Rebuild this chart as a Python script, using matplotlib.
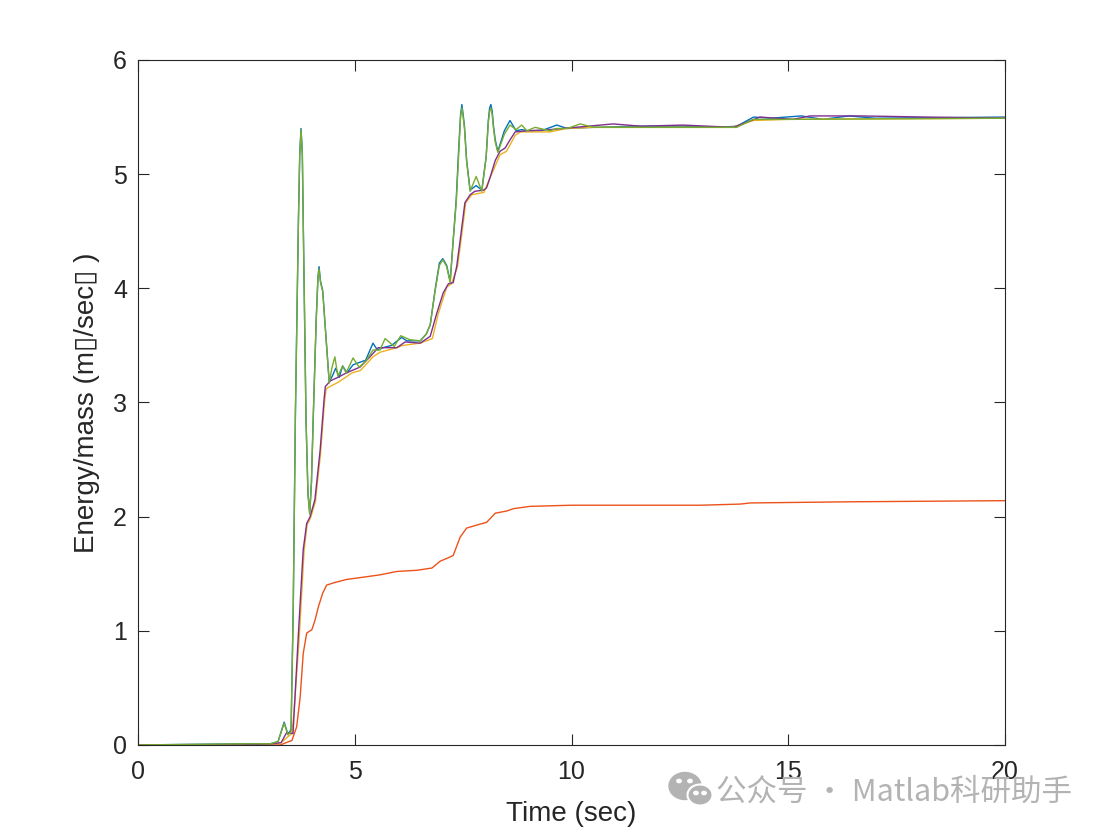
import numpy as np
import matplotlib.pyplot as plt
from matplotlib.patches import Ellipse, Circle

# Energy per unit mass for five runs

# blue run (oscillating)
t_blue = [0, 2.35, 3.05, 3.23, 3.37, 3.46, 3.53, 3.58, 3.63, 3.70, 3.73, 3.76, 3.79, 3.81, 3.875, 3.92,
          3.96, 4.00, 4.04, 4.11, 4.15, 4.175, 4.21, 4.26, 4.33, 4.41, 4.48, 4.56, 4.64, 4.72, 4.82,
          4.96, 5.10, 5.25, 5.42, 5.52, 5.65, 5.85, 6.08, 6.20, 6.51, 6.65, 6.74, 6.85, 6.95, 7.03,
          7.12, 7.20, 7.27, 7.34, 7.40, 7.44, 7.47, 7.50, 7.53, 7.58, 7.66, 7.80, 7.93, 8.03, 8.08,
          8.11, 8.14, 8.17, 8.20, 8.24, 8.30, 8.45, 8.58, 8.72, 8.85, 9.00, 9.30, 9.66, 9.90, 10.5,
          11.5, 12.6, 13.4, 13.81, 14.2, 14.6, 15.3, 15.8, 16.4, 17.0, 20]
e_blue = [0, 0.01, 0.01, 0.03, 0.20, 0.09, 0.14, 1.2, 2.9, 4.6, 5.18, 5.40, 5.18, 4.6, 2.85, 2.2,
          2.03, 2.3, 2.85, 3.73, 4.10, 4.19, 4.06, 3.98, 3.6, 3.18, 3.23, 3.30, 3.22, 3.32, 3.26,
          3.33, 3.35, 3.37, 3.52, 3.46, 3.48, 3.50, 3.57, 3.54, 3.54, 3.60, 3.68, 3.98, 4.22, 4.26,
          4.20, 4.06, 4.42, 4.78, 5.25, 5.52, 5.61, 5.52, 5.42, 5.12, 4.86, 4.90, 4.86, 5.15, 5.47,
          5.58, 5.61, 5.55, 5.42, 5.30, 5.20, 5.38, 5.47, 5.38, 5.39, 5.38, 5.38, 5.43, 5.40, 5.41,
          5.42, 5.42, 5.41, 5.42, 5.50, 5.49, 5.51, 5.48, 5.51, 5.49, 5.50]

# orange run (lowest curve)
t_orange = [0, 3.28, 3.55, 3.66, 3.74, 3.81, 3.89, 4.01, 4.08, 4.16, 4.26, 4.35, 4.51, 4.81, 5.20,
            5.58, 5.97, 6.43, 6.78, 6.97, 7.16, 7.27, 7.43, 7.58, 7.85, 8.04, 8.24, 8.51, 8.66, 9.04,
            9.99, 12.96, 13.89, 14.12, 16.42, 20]
e_orange = [0, 0.0, 0.04, 0.16, 0.42, 0.80, 0.98, 1.01, 1.09, 1.21, 1.33, 1.40, 1.42, 1.45, 1.47,
            1.49, 1.52, 1.53, 1.55, 1.61, 1.64, 1.66, 1.82, 1.90, 1.93, 1.95, 2.03, 2.05, 2.07, 2.09,
            2.10, 2.10, 2.11, 2.12, 2.13, 2.14]

# yellow run (smooth, slightly behind purple)
t_yellow = [0, 2.35, 3.05, 3.30, 3.45, 3.55, 3.60, 3.72, 3.83, 3.90, 3.98, 4.09, 4.21, 4.30, 4.34,
            4.43, 4.63, 4.94, 5.13, 5.42, 5.58, 5.97, 6.11, 6.51, 6.79, 6.92, 7.12, 7.23, 7.37, 7.45,
            7.56, 7.70, 7.98, 8.10, 8.35, 8.50, 8.70, 8.82, 9.50, 9.88, 10.5, 13.7, 14.2, 15.0, 20]
e_yellow = [0, 0.0, 0.01, 0.02, 0.07, 0.10, 0.3, 0.95, 1.70, 1.93, 1.99, 2.13, 2.55, 3.0, 3.12,
            3.14, 3.18, 3.26, 3.28, 3.40, 3.44, 3.48, 3.50, 3.52, 3.56, 3.77, 4.01, 4.04, 4.19, 4.42,
            4.75, 4.82, 4.84, 4.95, 5.17, 5.20, 5.34, 5.37, 5.37, 5.40, 5.41, 5.41, 5.47, 5.48, 5.49]

# purple run (smooth)
t_purple = [0, 2.35, 3.05, 3.30, 3.43, 3.575, 3.70, 3.81, 3.89, 3.97, 4.08, 4.20, 4.29, 4.32, 4.44,
            4.61, 4.81, 5.12, 5.35, 5.54, 5.74, 5.97, 6.16, 6.51, 6.74, 6.89, 7.04, 7.16, 7.27, 7.35,
            7.43, 7.54, 7.66, 7.77, 7.97, 8.04, 8.12, 8.24, 8.35, 8.47, 8.58, 8.70, 8.97, 9.50, 10.96,
            11.6, 12.57, 13.73, 14.35, 15.11, 15.50, 16.66, 18.20, 20]
e_purple = [0, 0.0, 0.01, 0.02, 0.11, 0.10, 0.98, 1.71, 1.94, 2.00, 2.15, 2.58, 3.02, 3.14, 3.19,
            3.22, 3.26, 3.31, 3.40, 3.48, 3.48, 3.48, 3.53, 3.52, 3.58, 3.78, 3.96, 4.04, 4.05, 4.19,
            4.42, 4.75, 4.82, 4.85, 4.86, 4.88, 4.97, 5.12, 5.20, 5.23, 5.30, 5.37, 5.38, 5.39, 5.44,
            5.42, 5.43, 5.41, 5.50, 5.48, 5.51, 5.51, 5.50, 5.49]

# green run (oscillating, drawn last)
t_green = [0, 2.35, 3.05, 3.23, 3.37, 3.46, 3.53, 3.58, 3.63, 3.70, 3.73, 3.76, 3.79, 3.81, 3.875, 3.92,
           3.96, 4.00, 4.04, 4.11, 4.15, 4.175, 4.21, 4.26, 4.33, 4.41, 4.47, 4.54, 4.61, 4.72, 4.80,
           4.96, 5.10, 5.25, 5.42, 5.58, 5.70, 5.91, 6.06, 6.27, 6.51, 6.65, 6.74, 6.85, 6.95, 7.03,
           7.12, 7.20, 7.27, 7.34, 7.40, 7.44, 7.47, 7.50, 7.53, 7.58, 7.66, 7.80, 7.93, 8.03, 8.08,
           8.11, 8.14, 8.17, 8.20, 8.24, 8.30, 8.45, 8.58, 8.72, 8.85, 8.97, 9.16, 9.50, 9.66, 9.90,
           10.2, 10.5, 13.4, 13.81, 14.19, 15.0, 20]
e_green = [0, 0.01, 0.01, 0.03, 0.19, 0.09, 0.12, 1.2, 2.9, 4.6, 5.16, 5.39, 5.16, 4.6, 2.85, 2.2,
           2.02, 2.3, 2.85, 3.72, 4.08, 4.17, 4.05, 3.97, 3.6, 3.17, 3.30, 3.40, 3.23, 3.32, 3.26,
           3.39, 3.31, 3.36, 3.46, 3.46, 3.56, 3.49, 3.585, 3.55, 3.54, 3.60, 3.68, 3.97, 4.20, 4.25,
           4.19, 4.05, 4.42, 4.75, 5.20, 5.50, 5.58, 5.50, 5.40, 5.11, 4.85, 4.98, 4.85, 5.15, 5.45,
           5.55, 5.58, 5.52, 5.40, 5.28, 5.19, 5.35, 5.43, 5.39, 5.43, 5.38, 5.41, 5.38, 5.40, 5.40,
           5.44, 5.41, 5.41, 5.41, 5.48, 5.48, 5.49]

x_ticks = [0, 5, 10, 15, 20]
y_ticks = [0, 1, 2, 3, 4, 5, 6]

plt.rcParams['font.family'] = ['Liberation Sans', 'DejaVu Sans']

fig = plt.figure(figsize=(11.07, 8.32), dpi=100)
ax = fig.add_axes([0.1247, 0.1046, 0.7832, 0.8233])

lw = 1.0
ax.plot(t_blue, e_blue, color='#0072BD', lw=lw)
ax.plot(t_orange, e_orange, color='#EC521A', lw=lw)
ax.plot(t_yellow, e_yellow, color='#EDB120', lw=lw)
ax.plot(t_purple, e_purple, color='#7E2F8E', lw=lw)
ax.plot(t_green, e_green, color='#77AC30', lw=lw)

ax.set_xlim(0, 20)
ax.set_ylim(0, 6)
ax.set_xticks(x_ticks)
ax.set_yticks(y_ticks)
ax.tick_params(direction='in', length=8, width=0.8, colors='#262626', labelsize=18,
               top=True, right=True)
ax.tick_params(axis='x', pad=11)
ax.tick_params(axis='y', pad=8)
for s in ax.spines.values():
    s.set_color('#262626')
    s.set_linewidth(0.8)

ax.set_xlabel('Time (sec)', fontsize=20, color='#262626', labelpad=12)
ax.set_ylabel('Energy/mass (m\u25af/sec\u25af )', fontsize=20, color='#262626', labelpad=9)

# watermark in the lower right corner
grey = '#b3b3b3'
fig.patches.append(Ellipse((685 / 1107, 1 - 786 / 832), 32 / 1107, 27 / 832, color=grey,
                           transform=fig.transFigure))
fig.patches.append(Ellipse((700 / 1107, 1 - 795 / 832), 25 / 1107, 21 / 832, color=grey, ec='white',
                           lw=1.5, transform=fig.transFigure))
for cx, cy in [(679, 781), (690, 781), (696, 793), (704, 793)]:
    fig.patches.append(Circle((cx / 1107, 1 - cy / 832), 2.2 / 1107, color='white',
                              transform=fig.transFigure))
fig.text(716 / 1107, 1 - 792 / 832, '公众号 · Matlab科研助手', fontsize=22, color=grey,
         va='center', ha='left', family=['Noto Sans CJK SC', 'DejaVu Sans'], zorder=1)

fig.savefig('out.png', dpi=100, facecolor='white')
